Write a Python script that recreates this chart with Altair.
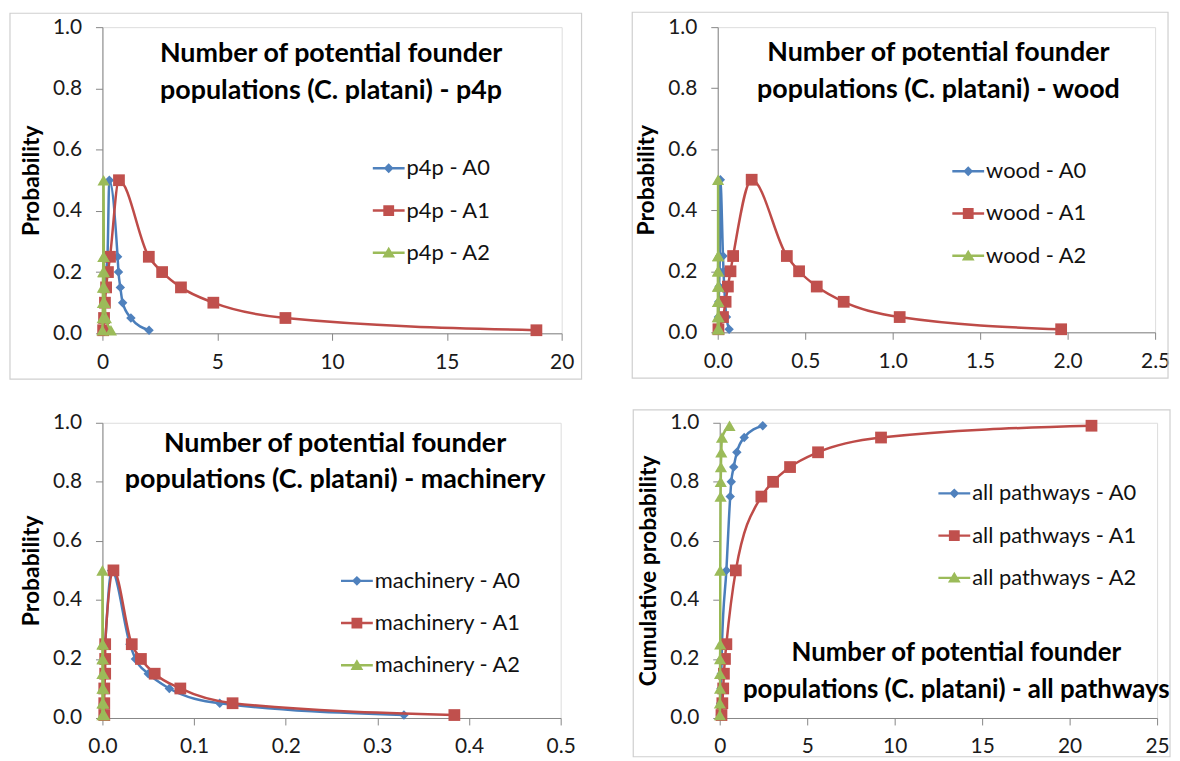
import altair as alt
import pandas as pd

FONT = "Lato"
SERIES = ["A0", "A1", "A2"]
PROB = [0.01, 0.05, 0.1, 0.15, 0.2, 0.25, 0.5, 0.25, 0.2, 0.15, 0.1, 0.05, 0.01]
CUM = [0.01, 0.05, 0.1, 0.15, 0.2, 0.25, 0.5, 0.75, 0.8, 0.85, 0.9, 0.95, 0.99]

P4P_A0 = [0.02, 0.05, 0.08, 0.12, 0.16, 0.22, 0.30, 0.66, 0.70, 0.78, 0.88, 1.24, 2.03]
P4P_A1 = [0.03, 0.07, 0.11, 0.16, 0.24, 0.33, 0.72, 2.02, 2.60, 3.42, 4.83, 7.97, 18.9]
P4P_A2 = [0.0, 0.01, 0.02, 0.02, 0.03, 0.04, 0.05, 0.06, 0.07, 0.08, 0.10, 0.15, 0.37]

WOOD_A0 = [0.002, 0.004, 0.006, 0.008, 0.010, 0.012, 0.015, 0.030, 0.033, 0.037, 0.042, 0.050, 0.065]
WOOD_A1 = [0.004, 0.030, 0.045, 0.058, 0.073, 0.088, 0.194, 0.395, 0.465, 0.566, 0.720, 1.040, 1.963]
WOOD_A2 = [0.0, 0.0, 0.001, 0.001, 0.001, 0.002, 0.002, 0.003, 0.003, 0.004, 0.004, 0.005, 0.007]

MACH_A0 = [0.001, 0.001, 0.002, 0.002, 0.002, 0.003, 0.010, 0.030, 0.036, 0.050, 0.073, 0.128, 0.329]
MACH_A1 = [0.002, 0.002, 0.002, 0.003, 0.003, 0.003, 0.012, 0.032, 0.042, 0.057, 0.085, 0.142, 0.384]
MACH_A2 = [0.0, 0.0, 0.0, 0.0, 0.0, 0.0, 0.0, 0.0005, 0.0005, 0.001, 0.001, 0.001, 0.002]

ALL_A0 = [0.03, 0.05, 0.07, 0.09, 0.11, 0.13, 0.38, 0.60, 0.66, 0.80, 0.98, 1.40, 2.46]
ALL_A1 = [0.10, 0.15, 0.20, 0.24, 0.30, 0.38, 0.92, 2.38, 3.05, 4.02, 5.62, 9.22, 21.25]
ALL_A2 = [0.01, 0.01, 0.02, 0.02, 0.02, 0.03, 0.03, 0.05, 0.06, 0.07, 0.09, 0.13, 0.56]

MARKER_COLORS = ["#4F81BD", "#C0504D", "#9BBB59"]
LINE_COLORS = ["#4A7EBB", "#BE4B48", "#98B954"]
SHAPES = ["diamond", "square", "triangle-up"]
SIZES = [90, 140, 150]
LEG_LINE = "M-1,-0.075H1V0.075H-1Z "
LEGEND_PATHS = [
    LEG_LINE + "M0,-0.31L0.31,0L0,0.31L-0.31,0Z",
    LEG_LINE + "M-0.34,-0.34H0.34V0.34H-0.34Z",
    LEG_LINE + "M0,-0.38L0.4,0.3H-0.4Z",
]
FRAME_COLOR = "#CFCFCF"
AXIS_COLOR = "#868686"
ONE = pd.DataFrame({"k": [0]})


def legend(leg_x, leg_y):
    return alt.Legend(title=None, orient="none", legendX=leg_x, legendY=leg_y,
                      symbolSize=1024, symbolOpacity=1, symbolStrokeWidth=0,
                      labelFont=FONT, labelFontSize=22, labelColor="#111111",
                      labelOffset=2, rowPadding=15.5, padding=0, labelLimit=400)


def panel(prefix, xs, ys, x_domain, x_values, x_fmt, y_title, width, height,
          title_lines, title_x, title_y, title_size, leg_x, leg_y, frame, show_frame):
    labels = [f"{prefix} - {s}" for s in SERIES]
    rows = []
    for lab, xv in zip(labels, xs):
        for i, (x, y) in enumerate(zip(xv, ys)):
            rows.append({"series": lab, "x": x, "y": y, "idx": i})
    df = pd.DataFrame(rows)

    xenc = alt.X("x:Q", scale=alt.Scale(domain=x_domain, nice=False, zero=False),
                 axis=alt.Axis(values=x_values, format=x_fmt, title=None, grid=False,
                               labelFlush=False, labelOverlap=False, tickSize=7,
                               labelPadding=11, domainColor=AXIS_COLOR, tickColor=AXIS_COLOR,
                               labelFont=FONT, labelFontSize=21, labelColor="#1a1a1a"))
    yenc = alt.Y("y:Q", scale=alt.Scale(domain=[0, 1], nice=False),
                 axis=alt.Axis(values=[0, 0.2, 0.4, 0.6, 0.8, 1.0], format=".1f", title=y_title,
                               grid=False, labelFlush=False, labelOverlap=False, tickSize=7,
                               labelPadding=14, titlePadding=9, domainColor=AXIS_COLOR,
                               tickColor=AXIS_COLOR, labelFont=FONT, labelFontSize=21,
                               labelColor="#1a1a1a", titleFont=FONT, titleFontSize=23,
                               titleFontWeight="bold", titleColor="#000000"))

    fx0, fx1, fy0, fy1 = frame
    layers = [
        alt.Chart(ONE).mark_rect(fillOpacity=0, stroke=FRAME_COLOR, strokeWidth=1.2,
                                 strokeOpacity=1 if show_frame else 0).encode(
            x=alt.value(fx0), x2=alt.value(fx1), y=alt.value(fy0), y2=alt.value(fy1))
    ]
    # legend carrier (invisible marks; legend symbols opaque)
    layers.append(
        alt.Chart(df).mark_point(filled=True, size=1, opacity=0).encode(
            x=xenc, y=yenc,
            color=alt.Color("series:N", scale=alt.Scale(domain=labels, range=MARKER_COLORS),
                            legend=legend(leg_x, leg_y)),
            shape=alt.Shape("series:N", scale=alt.Scale(domain=labels, range=LEGEND_PATHS),
                            legend=legend(leg_x, leg_y)),
        )
    )
    for i, lab in enumerate(labels):
        sub = df[df["series"] == lab]
        layers.append(alt.Chart(sub).mark_line(color=LINE_COLORS[i], strokeWidth=2.5,
                                               interpolate="monotone").encode(
            x=xenc, y=yenc, order="idx:Q"))
        layers.append(alt.Chart(sub).mark_point(filled=True, opacity=1, shape=SHAPES[i],
                                                size=SIZES[i], color=MARKER_COLORS[i],
                                                strokeWidth=0).encode(x=xenc, y=yenc))
    layers.append(
        alt.Chart(ONE).mark_text(text="\n".join(title_lines), lineBreak="\n", font=FONT,
                                 fontSize=title_size, fontWeight="bold", align="center",
                                 baseline="top", lineHeight=37, color="#000000").encode(
            x=alt.value(title_x), y=alt.value(title_y))
    )
    return alt.layer(*layers).properties(width=width, height=height)


TITLE1 = "Number of potential founder"
p1 = panel("p4p", [P4P_A0, P4P_A1, P4P_A2], PROB, [0, 20], [0, 5, 10, 15, 20], "d", "Probability",
           462, 308, [TITLE1, "populations (C. platani) - p4p"], 230, 14, 27, 272, 126,
           (-93, 482, -14, 354), True)
p2 = panel("wood", [WOOD_A0, WOOD_A1, WOOD_A2], PROB, [0, 2.5], [0, 0.5, 1.0, 1.5, 2.0, 2.5], ".1f",
           "Probability", 440, 307, [TITLE1, "populations (C. platani) - wood"], 222, 13, 27, 236, 129,
           (-86, 453, -15, 353), True)
p3 = panel("machinery", [MACH_A0, MACH_A1, MACH_A2], PROB, [0, 0.5], [0, 0.1, 0.2, 0.3, 0.4, 0.5], ".1f",
           "Probability", 461, 297, [TITLE1, "populations (C. platani) - machinery"], 234, 8, 27, 240, 143,
           (-91, 484, -13, 330), False)
p4 = panel("all pathways", [ALL_A0, ALL_A1, ALL_A2], CUM, [0, 25], [0, 5, 10, 15, 20, 25], "d",
           "Cumulative probability", 440, 297, [TITLE1, "populations (C. platani) - all pathways"],
           238, 219, 26, 220, 55, (-87, 453, -13, 336), True)

row1 = alt.hconcat(p1, p2, spacing=47).resolve_scale(color="independent", shape="independent") \
    .resolve_legend(color="independent", shape="independent")
row2 = alt.hconcat(p3, p4, spacing=47).resolve_scale(color="independent", shape="independent") \
    .resolve_legend(color="independent", shape="independent")

chart = alt.vconcat(row1, row2, spacing=27).resolve_scale(
    color="independent", shape="independent"
).resolve_legend(color="independent", shape="independent").properties(
    padding={"left": 0, "top": 0, "right": 0, "bottom": 0}
).configure_view(strokeWidth=0).configure(background="#ffffff")

chart.save("out.html", embed_options={"renderer": "svg", "actions": False})
